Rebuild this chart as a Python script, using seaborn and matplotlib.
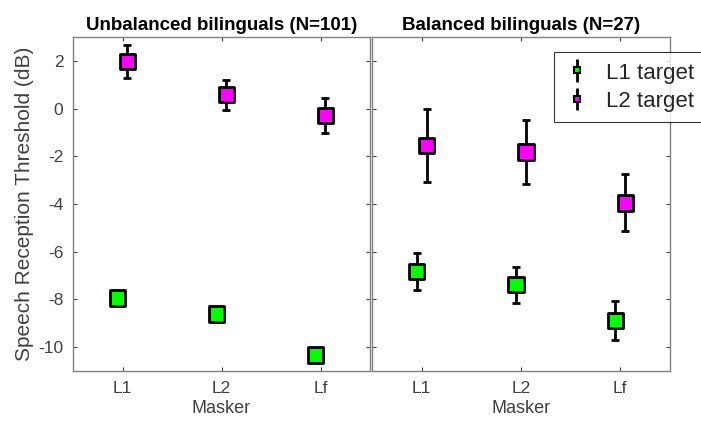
import matplotlib
matplotlib.use("Agg")
import matplotlib.pyplot as plt
import seaborn as sns
import numpy as np
import pandas as pd

# Speech reception thresholds (dB) per masker, mean and error half-width
maskers = ["L1", "L2", "Lf"]
groups = ["Unbalanced bilinguals (N=101)", "Balanced bilinguals (N=27)"]

unbal_l1_mean = [-7.95, -8.62, -10.34]
unbal_l1_err = [0.12, 0.32, 0.15]
unbal_l2_mean = [1.97, 0.58, -0.30]
unbal_l2_err = [0.68, 0.62, 0.74]

bal_l1_mean = [-6.82, -7.38, -8.89]
bal_l1_err = [0.78, 0.75, 0.83]
bal_l2_mean = [-1.55, -1.82, -3.95]
bal_l2_err = [1.54, 1.35, 1.20]

targets = ["L1 target", "L2 target"]
target_colors = {"L1 target": "#00ff00", "L2 target": "#ff00ff"}

rows = []
for g, (m1, e1, m2, e2) in zip(groups, [
        (unbal_l1_mean, unbal_l1_err, unbal_l2_mean, unbal_l2_err),
        (bal_l1_mean, bal_l1_err, bal_l2_mean, bal_l2_err)]):
    for i, mk in enumerate(maskers):
        rows.append(dict(group=g, masker=mk, pos=i + 1, target="L1 target", mean=m1[i], err=e1[i]))
        rows.append(dict(group=g, masker=mk, pos=i + 1, target="L2 target", mean=m2[i], err=e2[i]))
df = pd.DataFrame(rows)

sns.set_theme(style="white")
plt.rcParams["font.family"] = ["Liberation Sans", "DejaVu Sans"]

fig = plt.figure(figsize=(7.01, 4.26), dpi=100)
W, H = 701, 426
ax1 = fig.add_axes([73 / W, 1 - 371 / H, 297 / W, 334 / H])
ax2 = fig.add_axes([372 / W, 1 - 371 / H, 298 / W, 334 / H], sharey=ax1)

gray = "#404040"
offsets = {"L1 target": -0.05, "L2 target": 0.05}

for ax, g in zip([ax1, ax2], groups):
    sub = df[df.group == g]
    for t in targets:
        s = sub[sub.target == t]
        ax.errorbar(s.pos + offsets[t], s["mean"], yerr=s["err"], fmt="none",
                    ecolor="black", elinewidth=2.0, capsize=2.7, capthick=2.0, zorder=2)
    sns.scatterplot(data=sub.assign(x=sub.pos + sub.target.map(offsets)),
                    x="x", y="mean", hue="target", palette=target_colors,
                    marker="s", s=125, edgecolor="black", linewidth=2.0,
                    legend=False, ax=ax, zorder=3)
    ax.set_xlim(0.5, 3.5)
    ax.set_ylim(-11, 3)
    ax.set_xticks([1, 2, 3])
    ax.set_xticklabels(maskers)
    ax.set_yticks([-10, -8, -6, -4, -2, 0, 2])
    ax.set_xlabel("Masker", fontsize=13, color=gray, labelpad=3)
    ax.set_ylabel("")
    ax.set_title(g, fontsize=13.5, fontweight="bold", color="black", pad=5)
    ax.tick_params(direction="in", length=3, width=0.8, colors=gray, labelsize=12.5,
                   top=True, right=True, bottom=True, left=True, pad=7)
    for sp in ax.spines.values():
        sp.set_visible(True)
        sp.set_color("#808080")
        sp.set_linewidth(1.0)

ax1.set_yticklabels(["-10", "-8", "-6", "-4", "-2", "0", "2"])
ax1.set_ylabel("Speech Reception Threshold (dB)", fontsize=15, color=gray, labelpad=3)
plt.setp(ax2.get_yticklabels(), visible=False)

# Legend with errorbar-style handles
handles = []
for t in targets:
    h = ax2.errorbar([], [], yerr=[], fmt="s", color="black", ecolor="black",
                     markerfacecolor=target_colors[t], markeredgecolor="black",
                     markersize=4, markeredgewidth=1.5, elinewidth=2.0,
                     capsize=3, capthick=2.0, label=t)
    handles.append(h)
leg = fig.legend(handles=handles, labels=targets, loc="upper left",
                 bbox_to_anchor=(554 / W, 1 - 52 / H), fontsize=16,
                 frameon=True, fancybox=False, edgecolor="black",
                 handlelength=1.2, handleheight=0.9, handletextpad=0.7,
                 borderpad=0.45, labelspacing=0.3, borderaxespad=0)
leg.get_frame().set_linewidth(0.8)

fig.savefig("out.png", dpi=100)
